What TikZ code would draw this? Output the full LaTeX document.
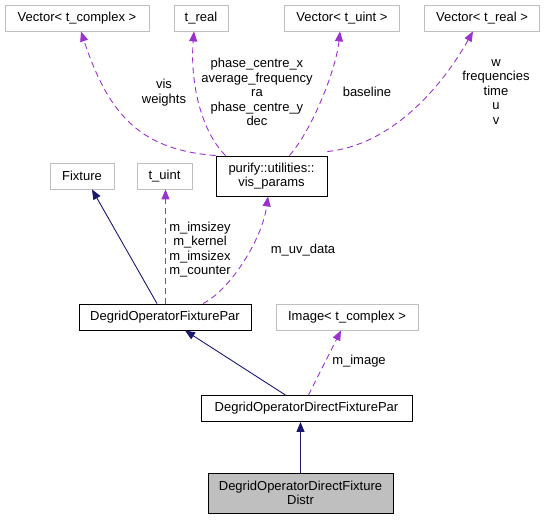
\documentclass[tikz,border=0pt]{standalone}
\usepackage{fontspec}
\setmainfont{Liberation Sans}
\usetikzlibrary{arrows.meta}
\definecolor{edgepurple}{HTML}{9A32CD}
\definecolor{edgenavy}{HTML}{191970}
\definecolor{boxgray}{HTML}{BFBFBF}
\begin{document}
\begin{tikzpicture}[x=1pt,y=-1pt,
  every node/.style={font=\fontsize{13}{14.5}\selectfont, inner sep=0pt, align=center},
  extbox/.style={draw=boxgray, line width=0.8pt, minimum height=26pt},
  clsbox/.style={draw=black, line width=0.9pt, minimum height=26pt},
  usedge/.style={draw=edgepurple, line width=0.9pt, dash pattern=on 6pt off 4pt, -{Triangle[length=10pt,width=8pt]}},
  inhedge/.style={draw=edgenavy, line width=0.9pt, -{Triangle[length=10pt,width=8pt]}},
  lbl/.style={}]
\useasboundingbox (0,0) rectangle (547,520);
\node[extbox, minimum width=144pt] (vc) at (77,18) {Vector< t\_complex >};
\node[extbox, minimum width=54pt] (tr) at (201,18) {t\_real};
\node[extbox, minimum width=115pt] (vu) at (342,18) {Vector< t\_uint >};
\node[extbox, minimum width=115pt] (vr) at (482,18) {Vector< t\_real >};
\node[extbox, minimum width=64pt] (fx) at (82,176) {Fixture};
\node[extbox, minimum width=55pt] (tu) at (164.5,176) {t\_uint};
\node[clsbox, minimum width=111pt, minimum height=40pt] (vp) at (271.5,176) {purify::utilities::\\vis\_params};
\node[clsbox, minimum width=172pt] (dfp) at (165,317) {DegridOperatorFixturePar};
\node[extbox, minimum width=142pt] (img) at (347,317) {Image< t\_complex >};
\node[clsbox, minimum width=211pt] (ddfp) at (306.5,408.5) {DegridOperatorDirectFixturePar};
\node[clsbox, fill=boxgray, minimum width=185pt, minimum height=40pt] (dist) at (300.5,493) {DegridOperatorDirectFixture\\Distr};

% usage edges from vis_params
\draw[usedge] (vp.north west) .. controls (145,150) and (110,120) .. (vc.south -| 81,0);
\draw[usedge] ([xshift=10pt]vp.north west) .. controls (200,130) and (190,80) .. (tr.south -| 194,0);
\draw[usedge] ([xshift=-38pt]vp.north east) .. controls (312,130) and (336,70) .. (vu.south -| 340,0);
\draw[usedge] ([yshift=4pt]vp.north east) .. controls (390,145) and (440,90) .. (vr.south -| 473,0);

\node[lbl] (l1) at (164,92.5) {vis\\weights};
\node[lbl] (l2) at (257,92) {phase\_centre\_x\\average\_frequency\\ra\\phase\_centre\_y\\dec};
\node[lbl] (l3) at (367,92) {baseline};
\node[lbl] (l4) at (496,92) {w\\frequencies\\time\\u\\v};

% DegridOperatorFixturePar edges
\draw[inhedge] ([xshift=-8pt]dfp.north) -- (fx.south -| 92,0);
\draw[usedge] (dfp.north -| 165.5,0) -- (tu.south -| 165.5,0);
\draw[usedge] ([xshift=38pt]dfp.north) .. controls (230,290) and (262,240) .. (vp.south -| 268,0);
\node[lbl] (l5) at (200,249.5) {m\_imsizey\\m\_kernel\\m\_imsizex\\m\_counter};
\node[lbl] (l6) at (303,250) {m\_uv\_data};

% DegridOperatorDirectFixturePar edges
\draw[inhedge] ([xshift=-21pt]ddfp.north) -- ([xshift=20pt]dfp.south);
\draw[usedge] ([xshift=2pt]ddfp.north) -- (img.south -| 341,0);
\node[lbl] (l7) at (359,361) {m\_image};

% Distr edge
\draw[inhedge] (dist.north) -- (ddfp.south -| dist.north);
\end{tikzpicture}
\end{document}
